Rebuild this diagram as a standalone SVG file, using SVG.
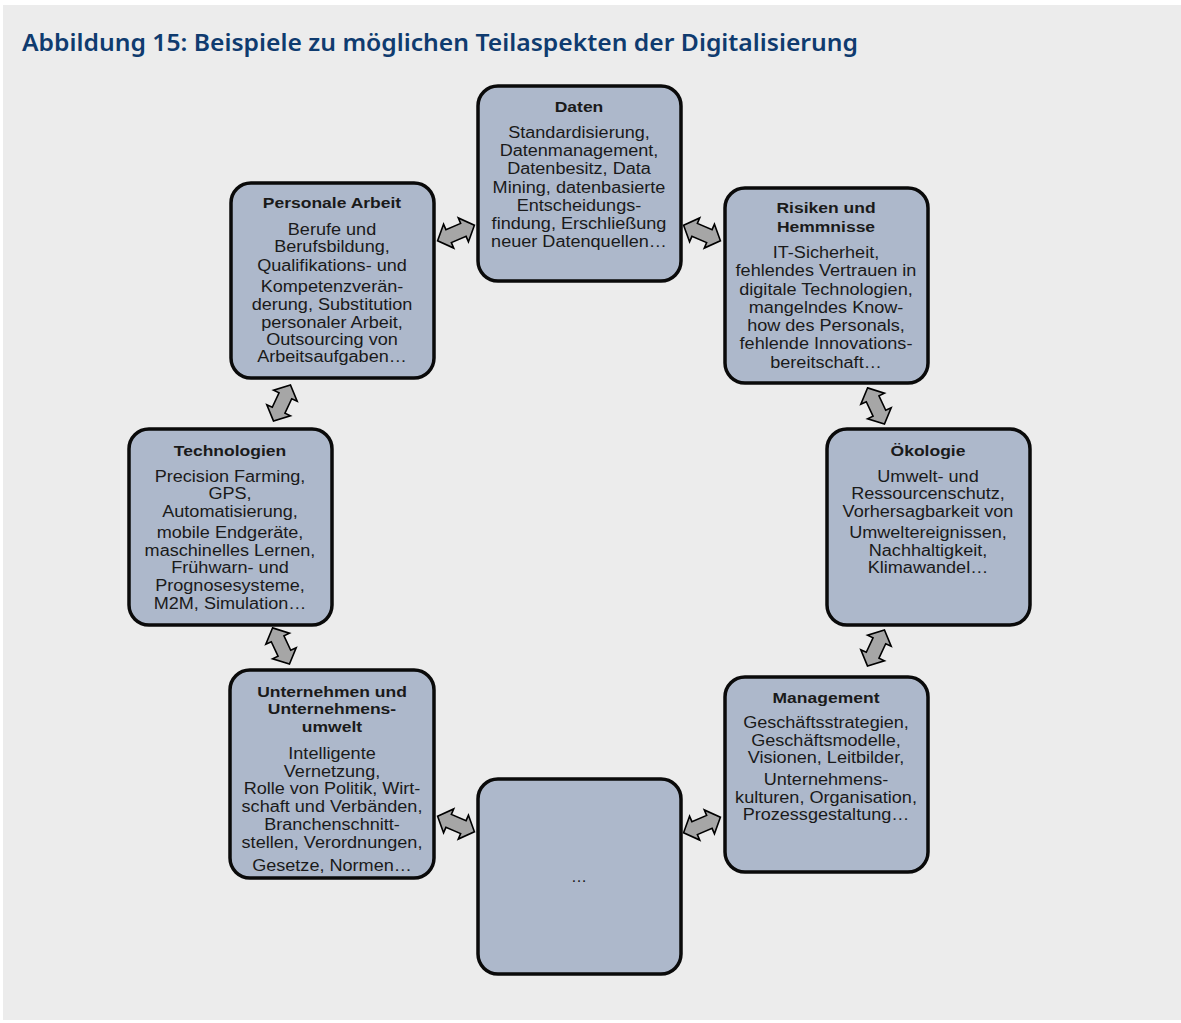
<svg xmlns="http://www.w3.org/2000/svg" width="1181" height="1023" viewBox="0 0 1181 1023">
<style>
.bg{fill:#ececec}
.title{font-family:"Noto Sans","Liberation Sans",sans-serif;font-weight:600;font-size:23px;fill:#0f3b6f}
.box{fill:#adb8cb;stroke:#0a0a0a;stroke-width:3.5}
.h{font-family:"Liberation Sans",Arial,sans-serif;font-weight:bold;font-size:15.5px;fill:#1a1a1a;text-anchor:middle}
.t{font-family:"Liberation Sans",Arial,sans-serif;font-size:16px;fill:#1a1a1a;text-anchor:middle}
.arr{fill:#a6a6a6;stroke:#000;stroke-width:1.6;stroke-linejoin:miter}
</style>
<defs>
<path id="dbl" d="M -20 0 L -8 -13 L -8 -7 L 8 -7 L 8 -13 L 20 0 L 8 13 L 8 7 L -8 7 L -8 13 Z"/>
</defs>
<rect class="bg" x="3" y="5" width="1178" height="1015"/>
<text class="title" x="22" y="51" textLength="836" lengthAdjust="spacingAndGlyphs">Abbildung 15: Beispiele zu möglichen Teilaspekten der Digitalisierung</text>

<g id="connectors">
<use href="#dbl" class="arr" transform="translate(456,233) rotate(-23)"/>
<use href="#dbl" class="arr" transform="translate(702,233) rotate(23)"/>
<use href="#dbl" class="arr" transform="translate(282,403) rotate(-65)"/>
<use href="#dbl" class="arr" transform="translate(876,406) rotate(65)"/>
<use href="#dbl" class="arr" transform="translate(281,646) rotate(65)"/>
<use href="#dbl" class="arr" transform="translate(876,648) rotate(-65)"/>
<use href="#dbl" class="arr" transform="translate(456,824) rotate(23)"/>
<use href="#dbl" class="arr" transform="translate(702,825) rotate(-23)"/>
</g>

<g id="daten">
<rect class="box" x="478" y="86" width="203" height="195" rx="20"/>
<g transform="translate(579,0) scale(1.13,1)">
<text class="h" x="0" y="112">Daten</text>
<text class="t" x="0" y="138">Standardisierung,</text>
<text class="t" x="0" y="156">Datenmanagement,</text>
<text class="t" x="0" y="174">Datenbesitz, Data</text>
<text class="t" x="0" y="193">Mining, datenbasierte</text>
<text class="t" x="0" y="211">Entscheidungs-</text>
<text class="t" x="0" y="229">findung, Erschließung</text>
<text class="t" x="0" y="247">neuer Datenquellen…</text>
</g>
</g>

<g id="personale-arbeit">
<rect class="box" x="231" y="183" width="203" height="195" rx="20"/>
<g transform="translate(332,0) scale(1.13,1)">
<text class="h" x="0" y="208">Personale Arbeit</text>
<text class="t" x="0" y="235">Berufe und</text>
<text class="t" x="0" y="252">Berufsbildung,</text>
<text class="t" x="0" y="271">Qualifikations- und</text>
<text class="t" x="0" y="292">Kompetenzverän-</text>
<text class="t" x="0" y="310">derung, Substitution</text>
<text class="t" x="0" y="328">personaler Arbeit,</text>
<text class="t" x="0" y="345">Outsourcing von</text>
<text class="t" x="0" y="362">Arbeitsaufgaben…</text>
</g>
</g>

<g id="risiken">
<rect class="box" x="725" y="188" width="203" height="195" rx="20"/>
<g transform="translate(826,0) scale(1.13,1)">
<text class="h" x="0" y="213">Risiken und</text>
<text class="h" x="0" y="232">Hemmnisse</text>
<text class="t" x="0" y="258">IT-Sicherheit,</text>
<text class="t" x="0" y="276">fehlendes Vertrauen in</text>
<text class="t" x="0" y="295">digitale Technologien,</text>
<text class="t" x="0" y="313">mangelndes Know-</text>
<text class="t" x="0" y="331">how des Personals,</text>
<text class="t" x="0" y="349">fehlende Innovations-</text>
<text class="t" x="0" y="368">bereitschaft…</text>
</g>
</g>

<g id="technologien">
<rect class="box" x="129" y="429" width="203" height="196" rx="20"/>
<g transform="translate(230,0) scale(1.13,1)">
<text class="h" x="0" y="456">Technologien</text>
<text class="t" x="0" y="482">Precision Farming,</text>
<text class="t" x="0" y="499">GPS,</text>
<text class="t" x="0" y="517">Automatisierung,</text>
<text class="t" x="0" y="538">mobile Endgeräte,</text>
<text class="t" x="0" y="556">maschinelles Lernen,</text>
<text class="t" x="0" y="573">Frühwarn- und</text>
<text class="t" x="0" y="591">Prognosesysteme,</text>
<text class="t" x="0" y="609">M2M, Simulation…</text>
</g>
</g>

<g id="oekologie">
<rect class="box" x="827" y="429" width="203" height="196" rx="20"/>
<g transform="translate(928,0) scale(1.13,1)">
<text class="h" x="0" y="456">Ökologie</text>
<text class="t" x="0" y="482">Umwelt- und</text>
<text class="t" x="0" y="499">Ressourcenschutz,</text>
<text class="t" x="0" y="517">Vorhersagbarkeit von</text>
<text class="t" x="0" y="538">Umweltereignissen,</text>
<text class="t" x="0" y="556">Nachhaltigkeit,</text>
<text class="t" x="0" y="573">Klimawandel…</text>
</g>
</g>

<g id="unternehmen">
<rect class="box" x="230" y="670" width="204" height="208" rx="20"/>
<g transform="translate(332,0) scale(1.13,1)">
<text class="h" x="0" y="697">Unternehmen und</text>
<text class="h" x="0" y="714">Unternehmens-</text>
<text class="h" x="0" y="732">umwelt</text>
<text class="t" x="0" y="759">Intelligente</text>
<text class="t" x="0" y="777">Vernetzung,</text>
<text class="t" x="0" y="794">Rolle von Politik, Wirt-</text>
<text class="t" x="0" y="812">schaft und Verbänden,</text>
<text class="t" x="0" y="830">Branchenschnitt-</text>
<text class="t" x="0" y="848">stellen, Verordnungen,</text>
<text class="t" x="0" y="871">Gesetze, Normen…</text>
</g>
</g>

<g id="management">
<rect class="box" x="725" y="677" width="203" height="195" rx="20"/>
<g transform="translate(826,0) scale(1.13,1)">
<text class="h" x="0" y="703">Management</text>
<text class="t" x="0" y="728">Geschäftsstrategien,</text>
<text class="t" x="0" y="746">Geschäftsmodelle,</text>
<text class="t" x="0" y="763">Visionen, Leitbilder,</text>
<text class="t" x="0" y="785">Unternehmens-</text>
<text class="t" x="0" y="803">kulturen, Organisation,</text>
<text class="t" x="0" y="820">Prozessgestaltung…</text>
</g>
</g>

<g id="weitere">
<rect class="box" x="478" y="779" width="203" height="195" rx="20"/>
<text class="t" x="579" y="882">…</text>
</g>
</svg>
